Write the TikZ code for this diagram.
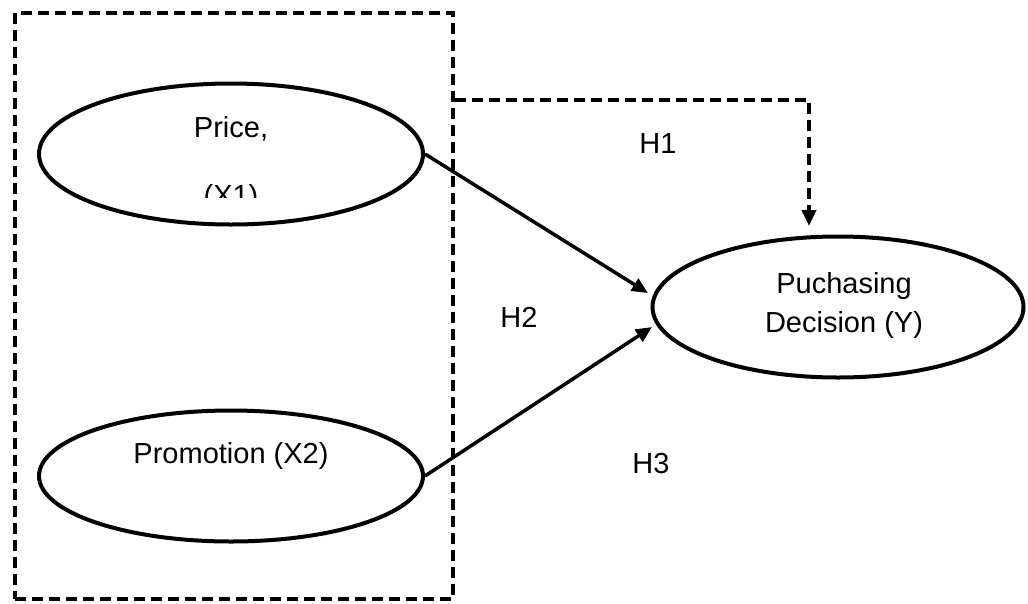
\documentclass[tikz,border=0pt]{standalone}
\usepackage{fontspec}
\setmainfont{Liberation Sans}
\usetikzlibrary{shapes.geometric,arrows.meta}

\begin{document}
\begin{tikzpicture}[x=1pt,y=-1pt,
  latent/.style={shape=ellipse, draw=black, line width=4pt, minimum width=384pt, inner sep=0pt},
  lbl/.style={anchor=base, font=\fontsize{29}{34}\selectfont},
  effect/.style={line width=3.5pt, -{Triangle[length=16pt,width=14pt]}},
  dashline/.style={line width=4pt, dash pattern=on 11pt off 6pt}]
\useasboundingbox (0,0) rectangle (1028,603);

% frame round the two predictors
\node[draw=black, dashline, minimum width=438pt, minimum height=586pt, inner sep=0pt](grp) at (234,306) {};

\node[latent, minimum height=141pt](price) at (231,154) {};
\node[latent, minimum height=131pt](promo) at (231,476) {};
\node[latent, minimum width=371pt, minimum height=141pt](buy) at (838,307) {};

\node[lbl](pricetxt) at (231,137) {Price,};
\begin{scope}
\clip (100,160) rectangle (360,197);
\node[lbl](x1txt) at (231,205) {(X1)};
\end{scope}
\node[lbl](promotxt) at (231,463) {Promotion (X2)};
\node[lbl](buytxt) at (844,293) {Puchasing};
\node[lbl](buytxtb) at (844,332) {Decision (Y)};

\node[lbl](h1) at (658,153) {H1};
\node[lbl](h2) at (519,327) {H2};
\node[lbl](h3) at (651,473) {H3};

\coordinate (h1bend) at (809,100);
\coordinate (h1tip) at (809,226);
\coordinate (h2tip) at (648,293);
\coordinate (h3tip) at (652,327);

\draw[dashline, -{Triangle[length=16pt,width=14pt]}] (grp.east |- h1bend) -- (h1bend) -- (h1tip);
\draw[effect] (price.east) -- (h2tip);
\draw[effect] (promo.east) -- (h3tip);
\end{tikzpicture}
\end{document}
